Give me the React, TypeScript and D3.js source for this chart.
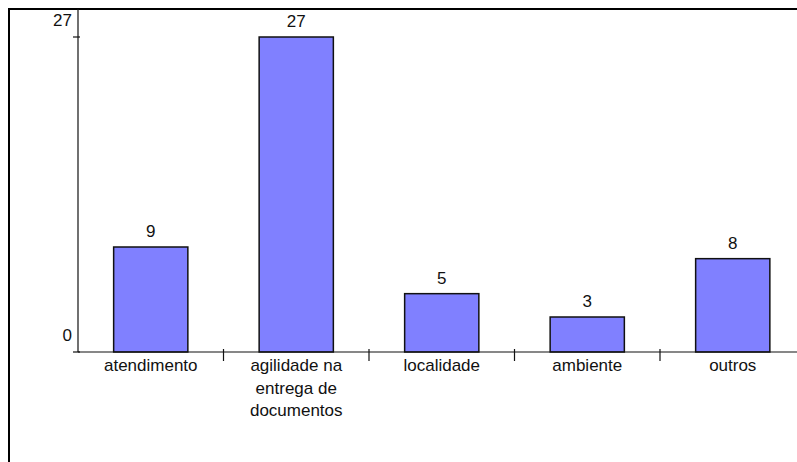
import React from 'react'
import * as d3 from 'd3'

// categorias e valores
const categories = ['atendimento', 'agilidade na entrega de documentos', 'localidade', 'ambiente', 'outros']
const categoryLines = [['atendimento'], ['agilidade na', 'entrega de', 'documentos'], ['localidade'], ['ambiente'], ['outros']]
const values = [9, 27, 5, 3, 8]
const yTicks = [0, 27]

export default function App() {
    const width = 797, height = 462
    const left = 78, baseY = 352, topY = 37
    const font = '"Liberation Sans", Arial, sans-serif'

    const x = d3.scaleBand<string>()
        .domain(categories)
        .range([left, left + 145.5 * categories.length])
        .paddingInner(0.49)
        .paddingOuter(0.245)
    const y = d3.scaleLinear().domain([0, d3.max(values) as number]).range([baseY, topY])

    const step = x.step()
    const bw = x.bandwidth()

    return (
        <svg width={width} height={height} style={{position: 'fixed', left: 0, top: 0, background: '#fff'}}
             fontFamily={font} fontSize={17}>
            {/* moldura */}
            <rect x={9} y={9} width={1000} height={800} fill="none" stroke="#000" strokeWidth={2}/>

            {/* barras */}
            {categories.map((c, i) => (
                <g key={c}>
                    <rect x={x(c)} y={y(values[i])} width={bw} height={baseY - y(values[i])}
                          fill="#8080ff" stroke="#111" strokeWidth={1.5}/>
                    <text x={(x(c) as number) + bw / 2} y={y(values[i]) - 10} textAnchor="middle" fill="#111">
                        {values[i]}
                    </text>
                    {categoryLines[i].map((l, j) => (
                        <text key={j} x={(x(c) as number) + bw / 2} y={371 + j * 22.5} textAnchor="middle" fill="#111">
                            {l}
                        </text>
                    ))}
                </g>
            ))}

            {/* eixo x */}
            <line x1={left} x2={width + 20} y1={baseY} y2={baseY} stroke="#111" strokeWidth={1.2}/>
            {categories.slice(0, -1).map(c => {
                const bx = (x(c) as number) + bw / 2 + step / 2
                return <line key={c} x1={bx} x2={bx} y1={baseY - 3} y2={baseY + 9} stroke="#111" strokeWidth={1.2}/>
            })}

            {/* eixo y */}
            <line x1={left} x2={left} y1={9} y2={baseY} stroke="#111" strokeWidth={1.2}/>
            {yTicks.map(t => (
                <g key={t}>
                    <line x1={left - 5} x2={left + 2} y1={y(t)} y2={y(t)} stroke="#111" strokeWidth={1.2}/>
                    <text x={72} y={y(t) - 11} textAnchor="end" fill="#111">{t}</text>
                </g>
            ))}
        </svg>
    )
}
